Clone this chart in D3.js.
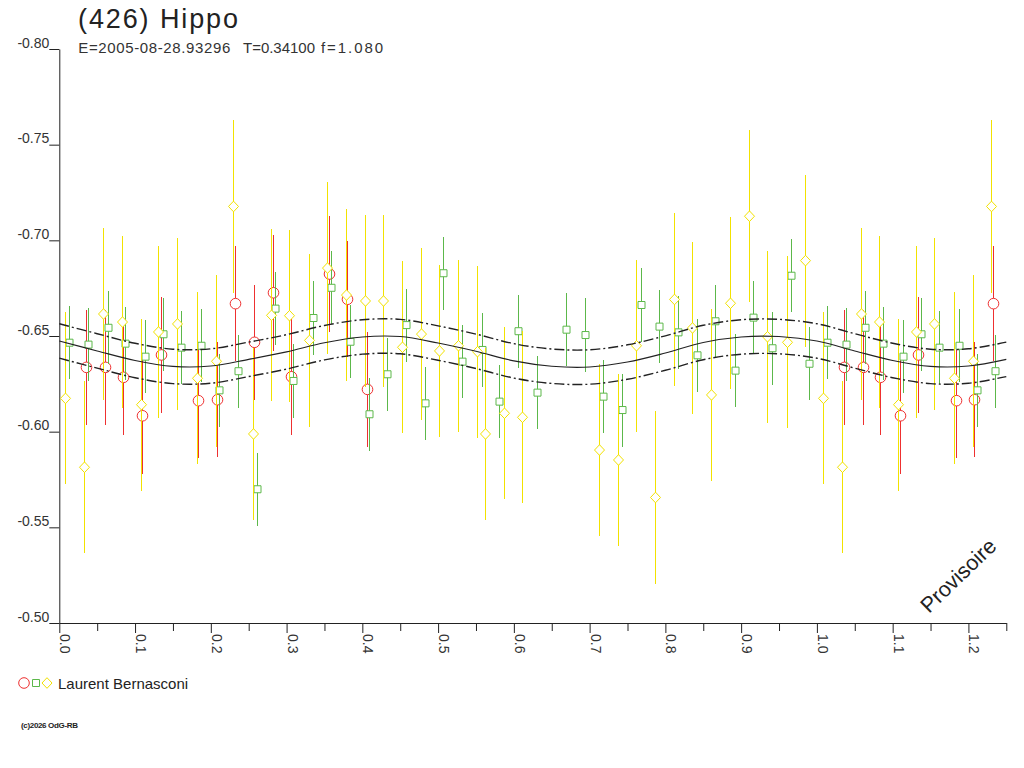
<!DOCTYPE html>
<html>
<head>
<meta charset="utf-8">
<script src="https://cdn.jsdelivr.net/npm/d3@7"></script>
<style>
  body { margin: 0; background: #fff; }
  svg { display: block; font-family: "Liberation Sans", Arial, sans-serif; }
</style>
</head>
<body>
<div id="chart"></div>
<script>
/* DATA (phase, magnitude) */
const redPhase = [0.0352, 0.0603, 0.0837, 0.1096, 0.1338, 0.1835, 0.2078, 0.2319, 0.2574, 0.2817, 0.3058, 0.3556, 0.3794, 0.4058];
const redMag   = [-0.6336, -0.6336, -0.6284, -0.6083, -0.6401, -0.6162, -0.6167, -0.6669, -0.6467, -0.6726, -0.6287, -0.6824, -0.6692, -0.6221];
const redErr = 0.0302;

const greenPhase = [0.0132, 0.0383, 0.0639, 0.0871, 0.1131, 0.1373, 0.1610, 0.1870, 0.2112, 0.2355,
  0.2610, 0.2851, 0.3089, 0.3349, 0.3586, 0.3837, 0.4088, 0.4330, 0.4576, 0.4827,
  0.5069, 0.5315, 0.5575, 0.5808, 0.6051, 0.6309, 0.6692, 0.6935, 0.7177, 0.7431,
  0.7678, 0.7916, 0.8171, 0.8413, 0.8659, 0.8915, 0.9153, 0.9403, 0.9658, 0.9896];
const greenMag = [-0.6465, -0.6455, -0.6543, -0.6460, -0.6392, -0.6509, -0.6439, -0.6449, -0.6216, -0.6316,
  -0.5699, -0.6643, -0.6265, -0.6594, -0.6752, -0.6470, -0.6091, -0.6300, -0.6557, -0.6148,
  -0.6828, -0.6366, -0.6427, -0.6157, -0.6525, -0.6204, -0.6533, -0.6505, -0.6183, -0.6113,
  -0.6662, -0.6549, -0.6519, -0.6399, -0.6577, -0.6319, -0.6596, -0.6436, -0.6815, -0.6355];
const greenErr = 0.0191;

const yellowPhase = [0.0075, 0.0330, 0.0581, 0.0824, 0.1074, 0.1307, 0.1550, 0.1814, 0.2064, 0.2297,
  0.2553, 0.2794, 0.3036, 0.3300, 0.3538, 0.3784, 0.4035, 0.4277, 0.4523, 0.4774,
  0.5016, 0.5259, 0.5510, 0.5619, 0.5870, 0.6111, 0.7120, 0.7379, 0.7612, 0.7863,
  0.8118, 0.8355, 0.8602, 0.8853, 0.9108, 0.9345, 0.9601, 0.9843];
const yellowMag = [-0.6174, -0.5814, -0.6615, -0.6573, -0.6141, -0.6521, -0.6563, -0.6279, -0.6368, -0.7177,
  -0.5988, -0.6608, -0.6606, -0.6477, -0.6855, -0.6714, -0.6683, -0.6683, -0.6441, -0.6510,
  -0.6422, -0.6449, -0.6418, -0.5988, -0.6096, -0.6075, -0.5904, -0.5852, -0.6449, -0.5656,
  -0.6691, -0.6542, -0.6192, -0.6671, -0.7126, -0.6496, -0.6467, -0.6894];
const yellowErr = 0.0450;

// fitted curve, read every 0.05 in phase
const curvePhase = [0.00, 0.05, 0.10, 0.15, 0.20, 0.25, 0.30, 0.35, 0.40, 0.45,
  0.50, 0.55, 0.60, 0.65, 0.70, 0.75, 0.80, 0.85, 0.90, 0.95];
const curveMag = [-0.6474, -0.6422, -0.6372, -0.6341, -0.6343, -0.6378, -0.6417, -0.6465, -0.6495, -0.6497,
  -0.6463, -0.6420, -0.6370, -0.6342, -0.6338, -0.6364, -0.6411, -0.6466, -0.6495, -0.6497];
const curveBand = 0.009;

const yTicks = [-0.80, -0.75, -0.70, -0.65, -0.60, -0.55, -0.50];
const xMajor = [0.0, 0.1, 0.2, 0.3, 0.4, 0.5, 0.6, 0.7, 0.8, 0.9, 1.0, 1.1, 1.2];
const xMinor = [0.05, 0.15, 0.25, 0.35, 0.45, 0.55, 0.65, 0.75, 0.85, 0.95, 1.05, 1.15, 1.25];

/* CONSTANTS */
const width = 1024, height = 768;
const plot = { left: 59.3, right: 1006.3, top: 49, bottom: 623 };
const phaseMax = 1.25;
const ink = "#222";

const x = d3.scaleLinear().domain([0, phaseMax]).range([plot.left, plot.right]);
const y = d3.scaleLinear().domain([-0.80, -0.50]).range([plot.top, plot.bottom]);

const svg = d3.select("#chart").append("svg")
  .attr("width", width)
  .attr("height", height);

// phase folding: points below 0.25 are shown again one cycle later
function fold(phases, mags) {
  const pts = phases.map((p, i) => ({ p, m: mags[i] }));
  return pts.concat(pts.filter(d => d.p + 1 <= phaseMax).map(d => ({ p: d.p + 1, m: d.m })));
}

const series = [
  { phase: redPhase, mag: redMag, err: redErr, color: "#ee3030", shape: "circle" },
  { phase: greenPhase, mag: greenMag, err: greenErr, color: "#5cb84a", shape: "square" },
  { phase: yellowPhase, mag: yellowMag, err: yellowErr, color: "#f2e200", shape: "diamond" }
];

const shapes = {
  circle: "M5.3,0A5.3,5.3 0 1,1 -5.3,0A5.3,5.3 0 1,1 5.3,0Z",
  square: "M-3.5,-3.5H3.5V3.5H-3.5Z",
  diamond: "M0,-5.3L5,0L0,5.3L-5,0Z"
};

/* AXES */
const yAxis = svg.append("g")
  .attr("transform", `translate(${plot.left},0)`)
  .call(d3.axisLeft(y).tickValues(yTicks).tickSize(10).tickSizeOuter(0).tickFormat(d => d.toFixed(2)));
yAxis.attr("font-family", null).attr("font-size", 14).style("color", ink);
yAxis.selectAll(".tick text").attr("x", -10).attr("dy", -2).attr("fill", "#333");

const xAxis = svg.append("g")
  .attr("transform", `translate(0,${plot.bottom})`)
  .call(d3.axisBottom(x).tickValues(xMajor).tickSize(10).tickSizeOuter(0).tickFormat(d => d.toFixed(1)));
xAxis.attr("font-family", null).attr("font-size", 14).style("color", ink);
xAxis.selectAll(".tick text")
  .attr("x", null).attr("y", null).attr("dy", null)
  .attr("text-anchor", "start")
  .attr("fill", "#333")
  .attr("transform", "translate(0.5,11) rotate(90)");

const xMinorAxis = svg.append("g")
  .attr("transform", `translate(0,${plot.bottom})`)
  .call(d3.axisBottom(x).tickValues(xMinor).tickSize(8).tickSizeOuter(0).tickFormat(""));
xMinorAxis.style("color", ink);
xMinorAxis.select(".domain").remove();

/* POINTS */
series.forEach(s => {
  const pts = fold(s.phase, s.mag);
  const g = svg.append("g");
  g.selectAll("line")
    .data(pts)
    .join("line")
    .attr("x1", d => Math.round(x(d.p)) + 0.5)
    .attr("x2", d => Math.round(x(d.p)) + 0.5)
    .attr("y1", d => y(d.m - s.err))
    .attr("y2", d => y(d.m + s.err))
    .attr("stroke", s.color)
    .attr("stroke-width", 1)
    .attr("shape-rendering", "crispEdges");
  g.selectAll("path")
    .data(pts)
    .join("path")
    .attr("transform", d => `translate(${Math.round(x(d.p)) + 0.5},${y(d.m)})`)
    .attr("d", shapes[s.shape])
    .attr("fill", "#fff")
    .attr("stroke", s.color)
    .attr("stroke-width", 1);
});

/* CURVE */
const curvePts = fold(curvePhase, curveMag).sort((a, b) => a.p - b.p);
const curveLine = off => d3.line()
  .x(d => x(d.p))
  .y(d => y(d.m + off))
  .curve(d3.curveCatmullRom.alpha(0.5));

svg.append("path")
  .datum(curvePts)
  .attr("d", curveLine(0))
  .attr("fill", "none")
  .attr("stroke", ink)
  .attr("stroke-width", 1.1);

[-curveBand, curveBand].forEach(off => {
  svg.append("path")
    .datum(curvePts)
    .attr("d", curveLine(off))
    .attr("fill", "none")
    .attr("stroke", ink)
    .attr("stroke-width", 1.4)
    .attr("stroke-dasharray", "10,3,2,3");
});

/* TEXT */
svg.append("text")
  .attr("x", 78).attr("y", 28)
  .attr("font-size", 27)
  .attr("textLength", 160)
  .attr("fill", ink)
  .text("(426) Hippo");

const subtitle = [
  { t: "E=2005-08-28.93296", x: 78.3, w: 152 },
  { t: "T=0.34100", x: 243, w: 72 },
  { t: "f=1.080", x: 321, w: 62 }
];
svg.selectAll("text.sub")
  .data(subtitle)
  .join("text")
  .attr("class", "sub")
  .attr("x", d => d.x).attr("y", 53)
  .attr("font-size", 15)
  .attr("textLength", d => d.w)
  .attr("fill", "#333")
  .text(d => d.t);

svg.append("text")
  .attr("transform", "translate(929,614) rotate(-44)")
  .attr("font-size", 21.5)
  .attr("fill", ink)
  .text("Provisoire");

// legend
const legend = svg.append("g").attr("transform", "translate(0,683)");
series.forEach((s, i) => {
  legend.append("path")
    .attr("transform", `translate(${[24, 36, 47][i]},0)`)
    .attr("d", shapes[s.shape])
    .attr("fill", "#fff")
    .attr("stroke", s.color);
});
legend.append("text")
  .attr("x", 58).attr("y", 5.5)
  .attr("font-size", 15)
  .attr("fill", ink)
  .text("Laurent Bernasconi");

svg.append("text")
  .attr("x", 21).attr("y", 728)
  .attr("font-size", 8)
  .attr("font-weight", "bold")
  .attr("textLength", 57)
  .attr("fill", ink)
  .text("(c)2026 OdG-RB");
</script>
</body>
</html>
